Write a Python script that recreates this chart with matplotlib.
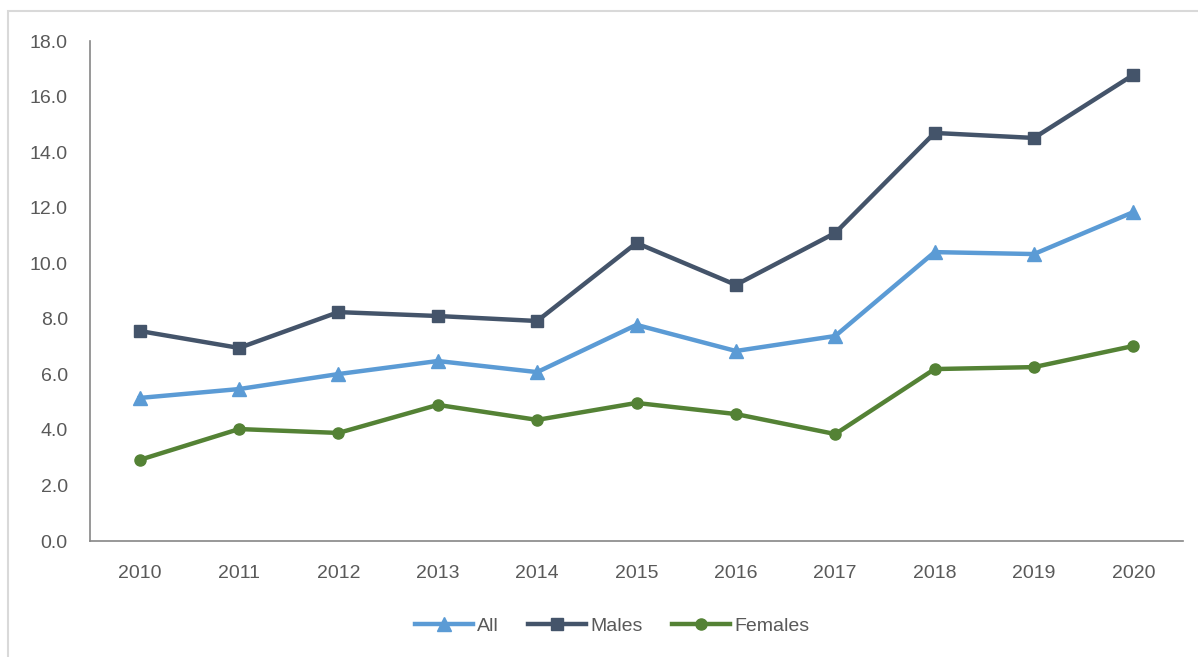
import matplotlib.pyplot as plt
from matplotlib.patches import Rectangle

years = ['2010', '2011', '2012', '2013', '2014', '2015', '2016', '2017', '2018', '2019', '2020']
all_vals = [5.15, 5.47, 6.01, 6.48, 6.08, 7.78, 6.84, 7.38, 10.40, 10.33, 11.84]
males = [7.56, 6.95, 8.24, 8.10, 7.92, 10.73, 9.22, 11.09, 14.69, 14.51, 16.78]
females = [2.92, 4.03, 3.89, 4.90, 4.36, 4.97, 4.57, 3.85, 6.19, 6.26, 7.02]
yticks = [0, 2, 4, 6, 8, 10, 12, 14, 16, 18]

plt.rcParams['font.family'] = ['Liberation Sans', 'DejaVu Sans']
txt = '#595959'

fig = plt.figure(figsize=(11.98, 6.57), dpi=100)
fig.patches.append(Rectangle((8 / 1198, -0.1), 1.2, 1.1 - 11 / 657,
                             transform=fig.transFigure, fill=False,
                             edgecolor='#d9d9d9', linewidth=1.5))
ax = fig.add_axes([90 / 1198, 1 - 541 / 657, (1183 - 90) / 1198, 500 / 657])

x = list(range(len(years)))
ax.plot(x, all_vals, color='#5B9BD5', lw=3.2, marker='^', ms=10, label='All')
ax.plot(x, males, color='#44546A', lw=3.2, marker='s', ms=8, label='Males')
ax.plot(x, females, color='#548235', lw=3.2, marker='o', ms=8, label='Females')

ax.set_xlim(-0.5, len(years) - 0.5)
ax.set_ylim(0, 18)
ax.set_xticks(x)
ax.set_xticklabels(years)
ax.set_yticks(yticks)
ax.set_yticklabels(['%.1f' % v for v in yticks])
ax.tick_params(length=0, labelsize=14, colors=txt)
ax.tick_params(axis='y', pad=16)
ax.tick_params(axis='x', pad=17)
for s in ['top', 'right']:
    ax.spines[s].set_visible(False)
for s in ['left', 'bottom']:
    ax.spines[s].set_color('#868686')
    ax.spines[s].set_linewidth(1.2)

leg = ax.legend(loc='center', bbox_to_anchor=(612 / 1198, 1 - 626 / 657),
                bbox_transform=fig.transFigure, ncol=3, frameon=False,
                fontsize=14, handlelength=3, handletextpad=0.2, columnspacing=1.5)
for t in leg.get_texts():
    t.set_color(txt)

fig.savefig('out.png', dpi=100)
